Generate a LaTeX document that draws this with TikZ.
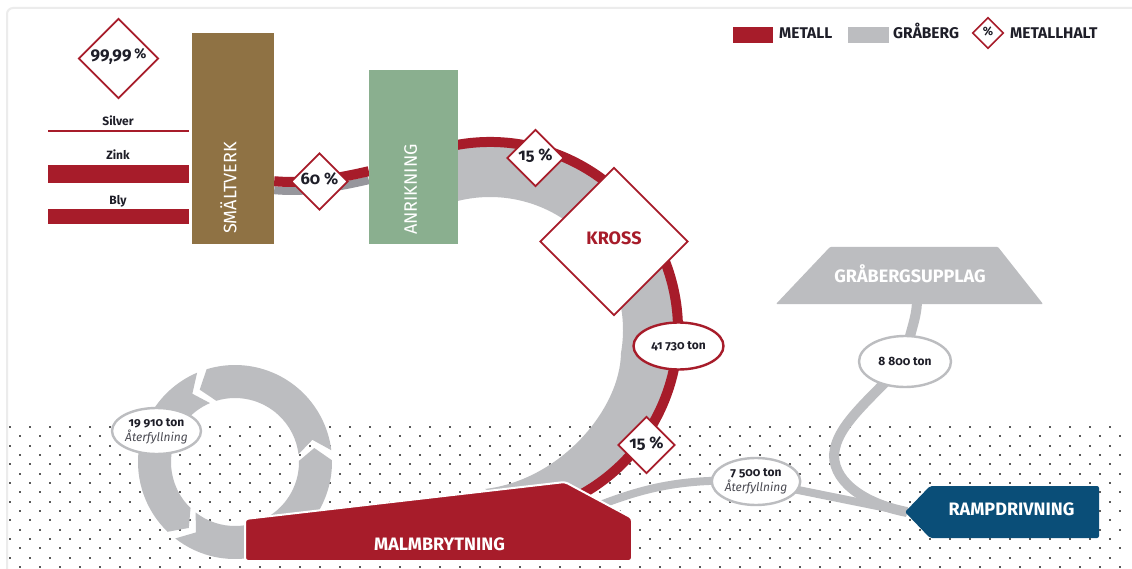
\documentclass[tikz,border=0pt]{standalone}
\usepackage{fontspec}
\setmainfont{Fira Sans}
\newfontfamily\oldnum{Fira Sans}[Numbers=OldStyle]
\usetikzlibrary{shapes.geometric,calc,backgrounds}

% Colours of the flow sheet
\definecolor{metred}{RGB}{167,28,42}
\definecolor{rockgray}{RGB}{188,189,192}
\definecolor{flowgray}{RGB}{150,150,156}
\definecolor{smeltbrown}{RGB}{143,114,68}
\definecolor{enrichgreen}{RGB}{138,175,143}
\definecolor{rampblue}{RGB}{10,78,120}
\definecolor{framegray}{RGB}{236,236,236}
\definecolor{inkdark}{RGB}{30,30,40}
\definecolor{dotgray}{RGB}{90,90,90}

\tikzset{
  pctbox/.style={diamond, draw=metred, fill=white, line width=1.8pt, inner sep=0pt,
    minimum size=57pt, text=inkdark, text height=0.6em, text depth=0pt,
    font=\oldnum\bfseries\fontsize{16.5}{16.5}\selectfont},
  tonbox/.style={ellipse, fill=white, line width=2.4pt, inner sep=0pt, align=center,
    minimum width=89pt, minimum height=46pt, text=inkdark,
    font=\oldnum\bfseries\fontsize{12}{15}\selectfont},
  grayflow/.style={rockgray, line width=8pt},
  stagelabel/.style={text=white, text height=0.69em, text depth=0pt,
    font=\bfseries\fontsize{18}{18}\selectfont},
  boxlabel/.style={text=white, rotate=90, text height=0.69em, text depth=0pt,
    font=\fontsize{18}{18}\selectfont},
  legendtext/.style={anchor=base west, inner sep=0pt, text=inkdark,
    font=\bfseries\fontsize{15.5}{16}\selectfont},
  metaltext/.style={anchor=base, text=inkdark, font=\bfseries\fontsize{12}{12}\selectfont},
}

\begin{document}
\begin{tikzpicture}[x=1pt,y=-1pt]
\useasboundingbox (0,0) rectangle (1132,569);

\begin{scope}[on background layer]
  % White card with its faint frame
  \fill[white] (0,0) rectangle (1132,569);
  \draw[framegray, line width=2pt, rounded corners=6pt] (7,569) -- (7,8) -- (1132,8);

  % Dotted ground below the surface, every other row shifted
  \foreach \row in {0,...,15}{
    \pgfmathsetmacro\dy{427+9.33*\row}
    \pgfmathsetmacro\dx{10+10*mod(\row,2)}
    \foreach \col in {0,...,55}
      \fill[dotgray] (\dx+20*\col-0.9,\dy-0.9) rectangle ++(1.8,1.8);
  }
\end{scope}

% Backfill loop: three chevron arrows on one ring
\def\rOut{97}
\def\rIn{64}
\def\rMid{80.5}
\coordinate (loopc) at (235,462);
\foreach \tail/\head in {128/-1, -7/-107, 247/134}{
  \fill[rockgray] ($(loopc)+(\tail:\rOut)$)
    arc[start angle=\tail, end angle=\head, radius=\rOut]
    -- ($(loopc)+(\head-9:\rMid)$) -- ($(loopc)+(\head:\rIn)$)
    arc[start angle=\head, end angle=\tail, radius=\rIn]
    -- ($(loopc)+(\tail-9:\rMid)$) -- cycle;
}

% Ore ring from ANRIKNING round to MALMBRYTNING
\coordinate (ringc) at (490,330);
\fill[rockgray] ($(ringc)+(-105:190)$)
  arc[start angle=-105, end angle=75, radius=190]
  -- (485,489) .. controls (560,480) and (620,410) .. ($(ringc)+(10:133)$)
  arc[start angle=10, end angle=-105, radius=133] -- cycle;
\draw[metred, line width=10pt] ($(ringc)+(-105:188)$)
  arc[start angle=-105, end angle=62, radius=188];

% Process boxes
\node[fill=smeltbrown, minimum width=82pt, minimum height=211pt, inner sep=0pt] (smelt) at (233,138.5) {};
\node[fill=enrichgreen, minimum width=89pt, minimum height=174pt, inner sep=0pt] (enrich) at (413.5,157) {};
\node[boxlabel] (smelttext) at (233,188) {SMÄLTVERK};
\node[boxlabel] (enrichtext) at (413.5,189.5) {ANRIKNING};

% Metals leaving the smelter
\coordinate (silverend) at (48,131);
\coordinate (zinkend) at (48,174);
\coordinate (blyend) at (48,216.5);
\draw[metred, line width=1.5pt] (silverend) -- ($(silverend -| smelt.west)+(-3,0)$);
\draw[metred, line width=18pt] (zinkend) -- ($(zinkend -| smelt.west)+(-3,0)$);
\draw[metred, line width=15pt] (blyend) -- ($(blyend -| smelt.west)+(-3,0)$);
\node[metaltext] (silver) at (118,126) {Silver};
\node[metaltext] (zink) at (118,160) {Zink};
\node[metaltext] (bly) at (118,204.5) {Bly};

% Mining, ramp and waste pile
\filldraw[fill=metred, draw=white, line width=2pt, rounded corners=3pt]
  (245,519) -- (565,482) -- (632,518) -- (632,561) -- (245,561) -- cycle;
\node[stagelabel] (mining) at (439.5,547) {MALMBRYTNING};
\fill[rampblue, rounded corners=2pt] (905,512) -- (930,486) -- (1099,486) -- (1099,538) -- (930,538) -- cycle;
\node[stagelabel] (ramp) at (1011.5,512.5) {RAMPDRIVNING};
\fill[rockgray, rounded corners=1pt] (776,304) -- (830,247) -- (998,247) -- (1043,304) -- cycle;
\node[stagelabel] (pile) at (910,279) {GRÅBERGSUPPLAG};

% Metal grades
\node[pctbox, minimum size=80pt, font=\bfseries\fontsize{17}{17}\selectfont] (pure) at (118.5,58.5)
  {99,99\,\raisebox{3pt}{\fontsize{14}{14}\selectfont\%}};
\node[pctbox] (grade60) at (319.5,181.5) {60~\%};
\node[pctbox] (grade15a) at (535.5,158) {15~\%};
\node[pctbox, minimum size=148pt, text=metred, font=\bfseries\fontsize{18}{18}\selectfont] (kross) at (614,241.5) {KROSS};
\node[pctbox] (grade15b) at (646.5,445) {15~\%};

% Tonnages
\node[tonbox, draw=metred, minimum width=90pt, minimum height=47pt] (ton41) at (678.5,346) {41 730 ton};
\node[tonbox, draw=rockgray] (ton19) at (156.5,431) {19 910 ton\\{\mdseries\itshape\color{inkdark!80} Återfyllning}};
\node[tonbox, draw=rockgray, minimum width=88pt, minimum height=47pt] (ton7) at (756,481.5) {7 500 ton\\{\mdseries\itshape\color{inkdark!80} Återfyllning}};
\node[tonbox, draw=rockgray, minimum width=92pt, minimum height=51pt] (ton8) at (905,361.5) {8 800 ton};

% Legend
\fill[metred] (733,27) rectangle (773,43);
\node[legendtext] (legmetal) at (779,38.5) {METALL};
\fill[rockgray] (848,27) rectangle (889,43);
\node[legendtext] (legrock) at (893,38.5) {GRÅBERG};
\node[pctbox, minimum size=31pt, line width=1.6pt, font=\bfseries\fontsize{12}{12}\selectfont] (leggrade) at (988,33) {\%};
\node[legendtext] (leggradetext) at (1010,38.5) {METALLHALT};

\begin{scope}[on background layer]
  % Concentrate from ANRIKNING to SMÄLTVERK
  \draw[flowgray, line width=8pt] ($(smelt.south east)+(0,-54)$) .. controls (305,193) and (335,188) .. ($(enrich.south west)+(0,-64)$);
  \draw[metred, line width=10pt] ($(smelt.south east)+(0,-63)$) .. controls (305,184) and (335,179) .. ($(enrich.south west)+(0,-73)$);

  % Waste rock and backfill flows
  \coordinate (mineexit) at (600,505);
  \coordinate (ramptip) at (907,512);
  \coordinate (pilefoot) at (917,300);
  \draw[grayflow] (mineexit) .. controls (640,490) and (680,477) .. (ton7.center);
  \draw[grayflow] (ton7.center) -- (ramptip);
  \draw[grayflow, line width=10pt] (pilefoot) .. controls (917,320) and (908,335) .. (ton8.center);
  \draw[grayflow, line width=10pt] (ton8.center) .. controls (870,400) and (836,425) .. (834,455)
    .. controls (834,485) and (870,505) .. (ramptip);
\end{scope}

\end{tikzpicture}
\end{document}
